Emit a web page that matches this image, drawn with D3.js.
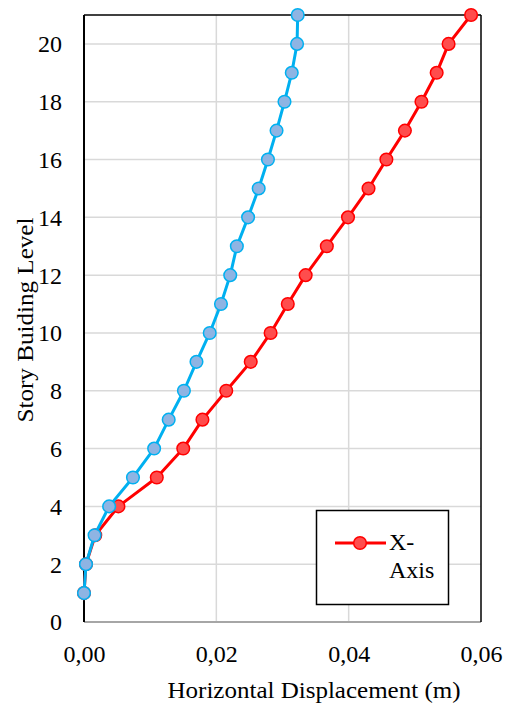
<!DOCTYPE html>
<html lang="en">
<head>
<meta charset="utf-8">
<title>Story drift</title>
<script src="https://cdn.jsdelivr.net/npm/d3@7"></script>
<style>
body { margin: 0; background: #fff; }
svg text { font-family: "Liberation Serif", "Times New Roman", serif !important; fill: #000; }
</style>
</head>
<body>
<script>

var width = 511;
var height = 706;

// story levels and displacements (m)
var levels = [1, 2, 3, 4, 5, 6, 7, 8, 9, 10, 11, 12, 13, 14, 15, 16, 17, 18, 19, 20, 21];
var xAxisDisp = [0.0000, 0.0003, 0.0017, 0.0052, 0.0110, 0.0150, 0.0179, 0.0215, 0.0252, 0.0282,
                 0.0308, 0.0335, 0.0367, 0.0399, 0.0430, 0.0457, 0.0485, 0.0510, 0.0533, 0.0551, 0.0585];
var yAxisDisp = [0.0000, 0.0003, 0.0016, 0.0038, 0.0074, 0.0106, 0.0128, 0.0151, 0.0170, 0.0190,
                 0.0207, 0.0221, 0.0231, 0.0248, 0.0264, 0.0278, 0.0291, 0.0303, 0.0314, 0.0322, 0.0323];
var xTicks = [0, 0.02, 0.04, 0.06];
var yTicks = [0, 2, 4, 6, 8, 10, 12, 14, 16, 18, 20];

var pLeft = 84, pRight = 481, pTop = 15, pBottom = 622;
var serif = "'Liberation Serif', 'Times New Roman', serif";

var svg = d3.select("body").append("svg")
            .attr("width", width)
            .attr("height", height)
            .attr("font-family", serif);

var x = d3.scaleLinear().domain([0, 0.06]).range([pLeft, pRight]);
var y = d3.scaleLinear().domain([0, 21]).range([pBottom, pTop]);

// grid
svg.append("g").selectAll("line")
    .data(yTicks.filter(function(d){ return d > 0; }))
    .enter().append("line")
    .attr("x1", pLeft).attr("x2", pRight)
    .attr("y1", function(d){ return y(d); })
    .attr("y2", function(d){ return y(d); })
    .attr("stroke", "#d9d9d9").attr("stroke-width", 1.5);

svg.append("g").selectAll("line")
    .data([0.02, 0.04])
    .enter().append("line")
    .attr("y1", pTop).attr("y2", pBottom)
    .attr("x1", function(d){ return x(d); })
    .attr("x2", function(d){ return x(d); })
    .attr("stroke", "#d9d9d9").attr("stroke-width", 1.5);

// frame
svg.append("line").attr("x1", pLeft).attr("x2", pRight).attr("y1", pBottom).attr("y2", pBottom)
    .attr("stroke", "#a6a6a6").attr("stroke-width", 2);
svg.append("line").attr("x1", pLeft).attr("x2", pRight).attr("y1", pTop).attr("y2", pTop)
    .attr("stroke", "#000").attr("stroke-width", 1.5);
svg.append("line").attr("x1", pRight).attr("x2", pRight).attr("y1", pTop).attr("y2", pBottom)
    .attr("stroke", "#000").attr("stroke-width", 1.5);
svg.append("line").attr("x1", pLeft).attr("x2", pLeft).attr("y1", pTop).attr("y2", pBottom)
    .attr("stroke", "#000").attr("stroke-width", 2);

// axes
var xAxis = d3.axisBottom(x).tickValues(xTicks)
    .tickFormat(function(d){ return d3.format(".2f")(d).replace(".", ","); })
    .tickSize(0).tickPadding(24);
var gx = svg.append("g").attr("transform", "translate(0," + pBottom + ")").call(xAxis)
    .attr("font-family", serif).attr("font-size", 24);
gx.select(".domain").remove();
gx.selectAll("text").attr("dy", null).attr("y", 40);

var yAxis = d3.axisLeft(y).tickValues(yTicks).tickSize(0).tickPadding(22);
var gy = svg.append("g").attr("transform", "translate(" + pLeft + ",0)").call(yAxis)
    .attr("font-family", serif).attr("font-size", 24);
gy.select(".domain").remove();
gy.selectAll("text").attr("dy", "0.33em");

svg.append("text")
    .attr("x", 314).attr("y", 698)
    .attr("text-anchor", "middle")
    .attr("textLength", 293).attr("lengthAdjust", "spacingAndGlyphs")
    .attr("font-size", 24)
    .text("Horizontal Displacement (m)");

svg.append("text")
    .attr("transform", "translate(33,320) rotate(-90)")
    .attr("text-anchor", "middle")
    .attr("textLength", 205).attr("lengthAdjust", "spacingAndGlyphs")
    .attr("font-size", 23)
    .text("Story Buiding Level");

// series
var series = [
    {vals: xAxisDisp, line: "#ff0000", fill: "#ff4d4d", stroke: "#ff0000"},
    {vals: yAxisDisp, line: "#00b0f0", fill: "#8eb4e3", stroke: "#00b0f0"}
];

var line = d3.line()
    .x(function(d){ return x(d[0]); })
    .y(function(d){ return y(d[1]); });

series.forEach(function(s){
    var pts = levels.map(function(l, i){ return [s.vals[i], l]; });
    svg.append("path")
        .attr("d", line(pts))
        .attr("fill", "none")
        .attr("stroke", s.line)
        .attr("stroke-width", 3)
        .attr("stroke-linejoin", "round");
    svg.append("g").selectAll("circle")
        .data(pts).enter().append("circle")
        .attr("cx", function(d){ return x(d[0]); })
        .attr("cy", function(d){ return y(d[1]); })
        .attr("r", 6.3)
        .attr("fill", s.fill)
        .attr("stroke", s.stroke)
        .attr("stroke-width", 1.5);
});

// legend
var lg = svg.append("g");
lg.append("rect").attr("x", 316.5).attr("y", 510.5).attr("width", 132).attr("height", 94)
    .attr("fill", "#fff").attr("stroke", "#000").attr("stroke-width", 1.5);
lg.append("line").attr("x1", 335).attr("x2", 386).attr("y1", 543).attr("y2", 543)
    .attr("stroke", "#ff0000").attr("stroke-width", 3);
lg.append("circle").attr("cx", 360).attr("cy", 543).attr("r", 6.3)
    .attr("fill", "#ff4d4d").attr("stroke", "#ff0000").attr("stroke-width", 1.5);
lg.append("text").attr("x", 389).attr("y", 550).attr("font-size", 24).text("X-");
lg.append("text").attr("x", 389).attr("y", 578).attr("font-size", 24).text("Axis");

</script>
</body>
</html>
